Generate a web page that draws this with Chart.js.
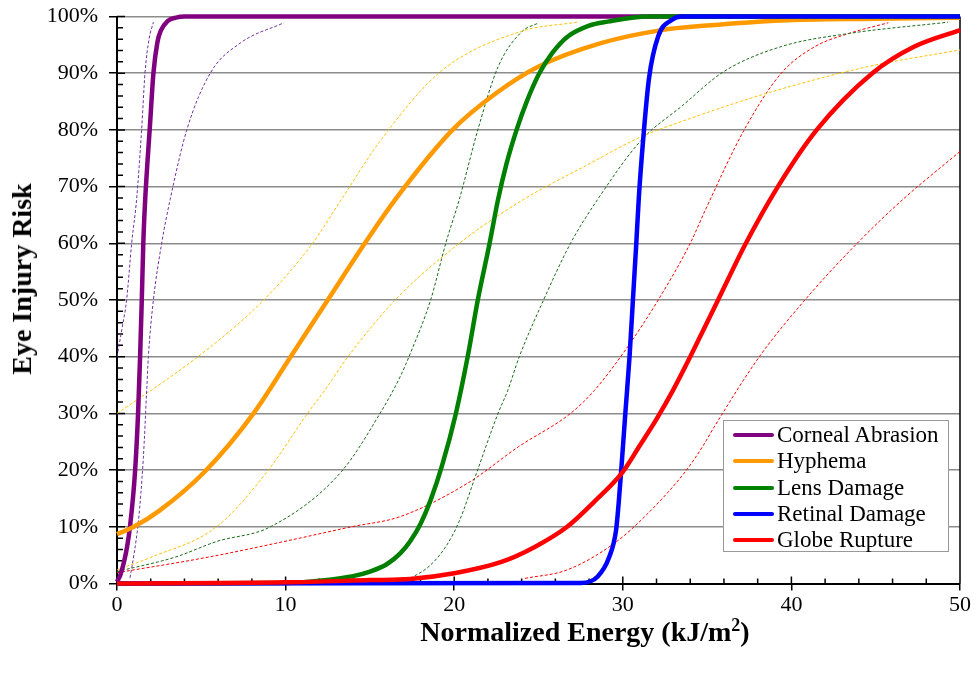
<!DOCTYPE html>
<html>
<head>
<meta charset="utf-8">
<script src="https://cdn.jsdelivr.net/npm/chart.js@4.4.0/dist/chart.umd.min.js"></script>
<style>
  body { margin: 0; background: #fff; }
  #wrap { position: relative; width: 977px; height: 673px; font-family: "Liberation Serif", "Times New Roman", serif; color: #000; }
  #xTitle { position: absolute; left: 585px; top: 632px; transform: translate(-50%, -50%); font-weight: bold; font-size: 28px; white-space: nowrap; }
  #xTitle sup { font-size: 18px; vertical-align: 10px; line-height: 0; }
  #yTitle { position: absolute; left: 22px; top: 279px; transform: translate(-50%, -50%) rotate(-90deg); font-weight: bold; font-size: 28px; white-space: nowrap; }
  #legend { position: absolute; left: 723px; top: 420px; width: 226px; height: 132px; border: 1px solid #999; background: #fff; box-sizing: border-box; padding-top: 1px; }
  #legend .item { height: 26.3px; line-height: 26.3px; font-size: 23px; white-space: nowrap; position: relative; padding-left: 53px; }
  #legend .swatch { position: absolute; left: 9px; top: 11px; width: 41px; height: 4px; border-radius: 2px; }
</style>
</head>
<body>
<div id="wrap">
  <canvas id="chart" width="977" height="673"></canvas>
  <div id="yTitle">Eye Injury Risk</div>
  <div id="xTitle">Normalized Energy (kJ/m<sup>2</sup>)</div>
  <div id="legend"></div>
</div>
<script>
// 軸設定
var xTicks = [0, 10, 20, 30, 40, 50];
var yTicks = [0, 10, 20, 30, 40, 50, 60, 70, 80, 90, 100];

// 五種傷害名稱與顏色
var names = ['Corneal Abrasion', 'Hyphema', 'Lens Damage', 'Retinal Damage', 'Globe Rupture'];
var mainColors = ['#800080', '#FF9900', '#008000', '#0000FF', '#FF0000'];
var boundColors = ['#7030A0', '#FFC000', '#1A6B1A', '#0000FF', '#FF0000'];

// 風險曲線 [能量, 風險%]
var corneal = [[0,0.3],[0.2,1.5],[0.4,3.6],[0.6,6.5],[0.77,10],[1.07,19.7],[1.25,30],[1.37,40],[1.47,50],[1.56,60],[1.66,67],[1.8,74],[1.96,81],[2.16,90],[2.4,95.5],[2.6,97.5],[3.0,99.2],[3.5,99.8],[4,100],[10,100],[50,100]];
var cornealUpper = [[0,40],[0.3,45],[0.57,50],[0.87,60],[1.17,68],[1.46,80],[1.66,90],[1.9,96],[2.16,99]];
var cornealLower = [[0.77,1],[1.0,5],[1.27,11],[1.56,22],[1.76,34],[1.86,40],[2.16,50],[2.65,60],[3.15,67.7],[4.14,80],[5.53,90],[7.3,95.3],[9.9,98.9]];

var hyphema = [[0,8.7],[1,10],[2.5,12.8],[5.2,19.7],[8.1,30],[10.3,40],[12.5,50],[14.7,60],[16.5,67.7],[19.9,80],[22.5,86.5],[24.95,91.1],[28.7,95.3],[32.3,97.6],[35,98.4],[39.4,99.3],[45,99.6],[50,99.8]];
var hyphemaUpper = [[0,30],[1.2,32.4],[4.8,40],[8.7,50],[11.6,60],[13.3,67.7],[15.6,78],[19.2,90.3],[24,97.4],[27.3,99]];
var hyphemaLower = [[0,2.4],[2,4.6],[5.9,10],[8.9,19.7],[11.3,30],[12.3,34],[13.7,40],[16.5,50],[20.3,60],[24.1,67.7],[28,74],[31.1,78.8],[33.5,81.5],[38.7,86.6],[44.6,91.2],[50,94.1]];

var lens = [[0,0],[10,0.1],[12,0.5],[14,1.3],[15,2.1],[16,3.4],[16.8,5.3],[17.4,7.5],[18,10.5],[18.6,14.7],[19.3,21],[20.1,30],[20.8,40],[21.4,50],[22.1,60],[22.6,67.7],[23.1,74],[23.7,80],[24.3,85],[25.05,90],[25.8,93.5],[26.7,96.4],[28,98.4],[29.1,99.1],[31.5,100],[50,100]];
var lensUpper = [[0,2.1],[3.5,4.7],[5.9,7.4],[9.1,10],[13.3,19.7],[15.6,30],[16.8,36.5],[17.4,40.6],[18.6,50],[19.5,60],[20.3,67.7],[21.4,80],[22.6,91.1],[24,97.3],[24.95,98.8]];
var lensLower = [[17.4,0.9],[18.5,3],[19.5,6.5],[20.3,11],[21.35,19.7],[22.6,30],[23.17,34],[23.86,40],[25.3,50],[26.9,60],[28.5,67.7],[31.1,78.2],[33.5,84.2],[36,90.3],[39.4,94.7],[43.4,97],[49.3,99]];

var retinal = [[0,0],[27.5,0.1],[28.5,1.2],[29.2,4.7],[29.6,9.4],[29.75,14],[29.9,19.7],[30.15,30],[30.4,40],[30.6,50],[30.8,60],[30.95,68],[31.2,78],[31.55,89],[32.1,96.5],[32.9,99.4],[33.5,100],[50,100]];

var globe = [[0,0],[10,0.2],[15,0.6],[17.4,0.8],[20,1.8],[22.8,3.8],[24.75,6.4],[26.7,10],[28.3,14.4],[30,19.7],[31,24.3],[32,29],[33,34.2],[34,40],[35.65,50],[37.3,60],[39.2,70],[41.5,80],[44.8,90],[47.3,94.7],[50,97.6]];
var globeUpper = [[0,1.9],[5.5,4.7],[9.9,7.4],[13.9,10],[16.8,11.8],[20.8,17.7],[23.8,24.1],[26.9,30],[28.3,34],[30.3,41.8],[32.1,50],[34,60],[34.9,65.9],[37.2,80],[39.4,90],[41.4,94.7],[43.4,97],[45.75,98.9]];
var globeLower = [[24.2,0.9],[26.7,2.4],[29.5,7.1],[31.3,11.8],[33.7,19.7],[34.7,24],[35.5,28],[38.1,40],[40.8,50],[43.9,60],[46.6,67.7],[50,76.2]];

function pts(arr) {
	return arr.map(function(p) { return {x: p[0], y: p[1]}; });
}

// 主曲線（粗線）
function mainSet(i, data, order) {
	return {
		label: names[i],
		data: pts(data),
		borderColor: mainColors[i],
		backgroundColor: mainColors[i],
		borderWidth: 4.5,
		pointRadius: 0,
		cubicInterpolationMode: 'monotone',
		clip: false,
		order: order
	};
}

// 信賴區間（細虛線）
function boundSet(i, data) {
	return {
		label: names[i] + ' bound',
		data: pts(data),
		borderColor: boundColors[i],
		borderWidth: 1,
		borderDash: [3, 2],
		pointRadius: 0,
		cubicInterpolationMode: 'monotone',
		order: 10
	};
}

var datasets = [
	mainSet(0, corneal, 4),
	mainSet(1, hyphema, 3),
	mainSet(2, lens, 2),
	mainSet(3, retinal, 1),
	mainSet(4, globe, 0),
	boundSet(0, cornealUpper), boundSet(0, cornealLower),
	boundSet(1, hyphemaUpper), boundSet(1, hyphemaLower),
	boundSet(2, lensUpper), boundSet(2, lensLower),
	boundSet(4, globeUpper), boundSet(4, globeLower)
];

// 內側刻度與右邊框
var innerTicks = {
	id: 'innerTicks',
	beforeDatasetsDraw: function(chart) {
		var c = chart.ctx, a = chart.chartArea, x = chart.scales.x, y = chart.scales.y;
		c.save();
		c.strokeStyle = '#000';
		c.lineWidth = 1.5;
		c.beginPath();
		for (var v = 0; v <= 50; v += 2) {
			var px = x.getPixelForValue(v);
			c.moveTo(px, a.bottom);
			c.lineTo(px, a.bottom - (v % 10 === 0 ? 7 : 5));
		}
		for (var w = 0; w <= 100; w += 2) {
			var py = y.getPixelForValue(w);
			c.moveTo(a.left, py);
			c.lineTo(a.left + (w % 10 === 0 ? 8 : 6), py);
		}
		c.moveTo(a.right, a.top);
		c.lineTo(a.right, a.bottom);
		c.stroke();
		c.restore();
	}
};

var font = {family: '"Liberation Serif", "Times New Roman", serif', size: 22};

var ctx = document.getElementById('chart');
var myChart = new Chart(ctx, {
	type: 'line',
	data: {datasets: datasets},
	plugins: [innerTicks],
	options: {
		responsive: false,
		animation: false,
		devicePixelRatio: 1,
		layout: {padding: {left: 0, right: 17, top: 16.5, bottom: 0}},
		plugins: {legend: {display: false}, tooltip: {enabled: false}},
		scales: {
			x: {
				type: 'linear',
				min: 0, max: 50,
				afterBuildTicks: function(s) { s.ticks = xTicks.map(function(v) { return {value: v}; }); },
				afterFit: function(s) { s.height = 89.5; s.paddingLeft = 0; s.paddingRight = 0; },
				ticks: {font: font, color: '#000', padding: 2},
				grid: {drawOnChartArea: false, tickLength: 7, color: '#000', lineWidth: 1.5},
				border: {color: '#000', width: 2}
			},
			y: {
				min: 0, max: 100,
				afterBuildTicks: function(s) { s.ticks = yTicks.map(function(v) { return {value: v}; }); },
				afterFit: function(s) { s.width = 117; s.paddingTop = 0; s.paddingBottom = 0; },
				ticks: {font: font, color: '#000', padding: 11, callback: function(v) { return v + '%'; }},
				grid: {color: '#8c8c8c', lineWidth: 1.5, tickLength: 8, tickColor: '#000', tickWidth: 1.5},
				border: {color: '#000', width: 2}
			}
		}
	}
});

// 圖例
var legend = document.getElementById('legend');
for (var i = 0; i < names.length; i++) {
	var item = document.createElement('div');
	item.className = 'item';
	item.innerHTML = '<span class="swatch" style="background:' + mainColors[i] + '"></span>' + names[i];
	legend.appendChild(item);
}
</script>
</body>
</html>
